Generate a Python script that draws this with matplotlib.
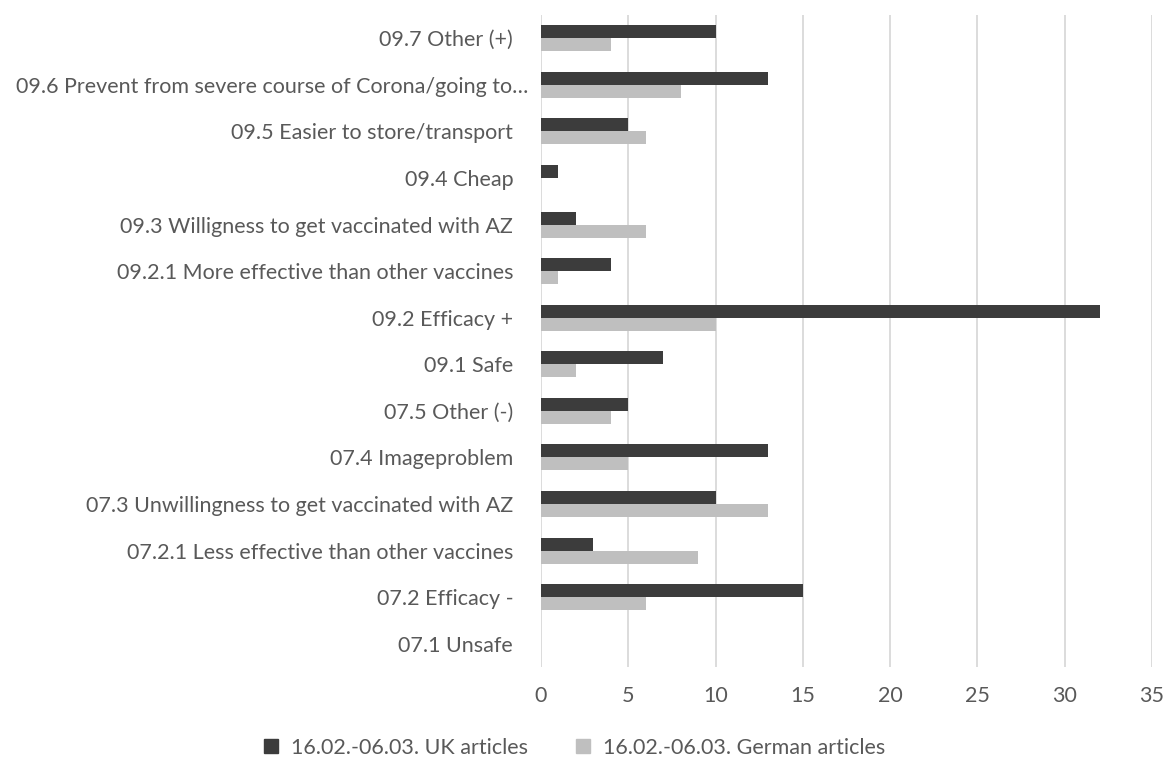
import matplotlib
matplotlib.use("Agg")
import matplotlib.pyplot as plt
import matplotlib.transforms as mtransforms
import numpy as np
from matplotlib.patches import Patch

categories = [
    "07.1 Unsafe",
    "07.2 Efficacy -",
    "07.2.1 Less effective than other vaccines",
    "07.3 Unwillingness to get vaccinated with AZ",
    "07.4 Imageproblem",
    "07.5 Other (-)",
    "09.1 Safe",
    "09.2 Efficacy +",
    "09.2.1 More effective than other vaccines",
    "09.3 Willigness to get vaccinated with AZ",
    "09.4 Cheap",
    "09.5 Easier to store/transport",
    "09.6 Prevent from severe course of Corona/going to\u2026",
    "09.7 Other (+)",
]
uk_values = [0, 15, 3, 10, 13, 5, 7, 32, 4, 2, 1, 5, 13, 10]
de_values = [0, 6, 9, 13, 5, 4, 2, 10, 1, 6, 0, 6, 8, 4]
series_names = ["16.02.-06.03. UK articles", "16.02.-06.03. German articles"]
x_ticks = [0, 5, 10, 15, 20, 25, 30, 35]

dark = "#3c3c3c"
light = "#bfbfbf"
text_color = "#595959"
font_size = 15.5

plt.rcParams["font.family"] = ["Lato", "DejaVu Sans"]

fig = plt.figure(figsize=(11.68, 7.6), dpi=100)
ax = fig.add_axes([0.4632, 0.1224, 0.5231, 0.8579])

y = np.arange(len(categories))
h = 0.28
ax.barh(y + h / 2, uk_values, height=h, color=dark, zorder=3)
ax.barh(y - h / 2, de_values, height=h, color=light, zorder=3)

ax.set_xlim(0, 35)
ax.set_ylim(-0.5, len(categories) - 0.5)
ax.set_xticks(x_ticks)
ax.set_xticklabels([str(t) for t in x_ticks])
ax.set_yticks(y)
ax.set_yticklabels(categories)

for s in ax.spines.values():
    s.set_visible(False)
ax.grid(axis="x", color="#d9d9d9", linewidth=1.3, zorder=0)
ax.tick_params(axis="both", length=0, labelsize=font_size, labelcolor=text_color)
ax.tick_params(axis="y", pad=20)
ax.tick_params(axis="x", pad=14)

# the truncated long label sits a little closer to the axis
long_label = ax.get_yticklabels()[categories.index(categories[12])]
long_label.set_transform(long_label.get_transform()
                         + mtransforms.ScaledTranslation(10.5 / 72, 0, fig.dpi_scale_trans))

handles = [Patch(color=dark), Patch(color=light)]
fig.legend(handles, series_names, loc="center", bbox_to_anchor=(0.492, 0.016),
           ncol=2, frameon=False, fontsize=font_size, labelcolor=text_color,
           handlelength=0.65, handleheight=0.65, columnspacing=2.2, handletextpad=0.6,
           borderpad=0.1)

fig.savefig("out.png", dpi=100)
